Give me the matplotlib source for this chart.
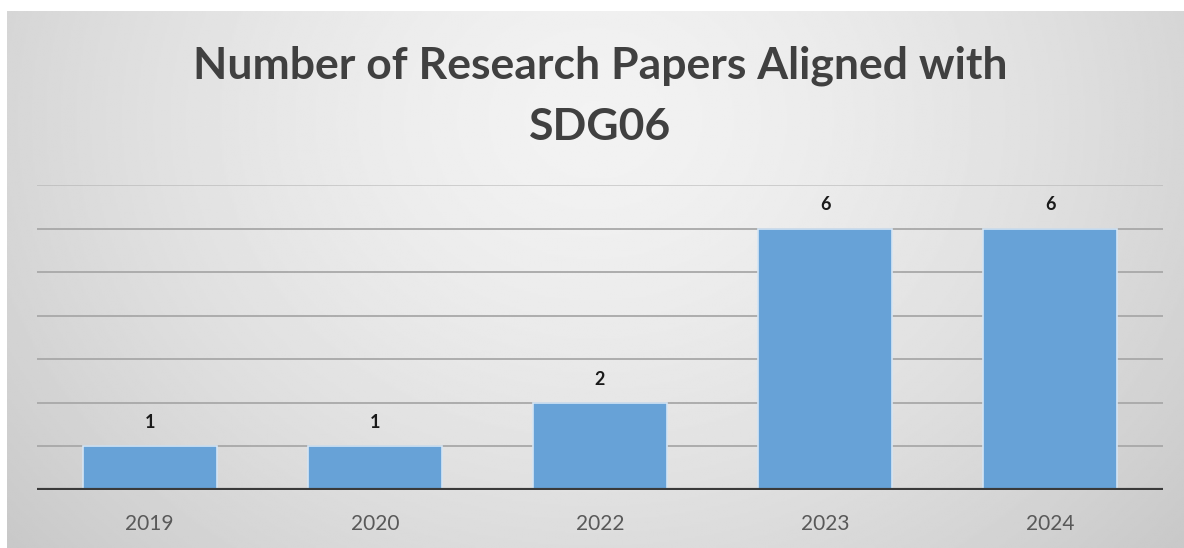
import numpy as np
import matplotlib
matplotlib.use("Agg")
import matplotlib.pyplot as plt

years = ["2019", "2020", "2022", "2023", "2024"]
papers = [1, 1, 2, 6, 6]
title_lines = ["Number of Research Papers Aligned with", "SDG06"]

W, H = 1184, 548
fig = plt.figure(figsize=(W / 100, H / 100), dpi=100)
fig.patch.set_facecolor("white")

# radial-ish gradient background, lighter near the top middle
bg = fig.add_axes([7 / W, 0, 1 - 7 / W, 1 - 11 / H])
yy, xx = np.mgrid[0:1:300j, 0:1:600j]
d = np.sqrt(((xx - 0.5) / 0.7) ** 2 + ((yy - 0.2) / 1.3) ** 2)
shade = 0.95 - 0.18 * np.clip(d, 0, 1) ** 1.5
bg.imshow(shade, cmap="gray", vmin=0, vmax=1, aspect="auto",
          extent=[0, 1, 1, 0], interpolation="bilinear")
bg.set_axis_off()

ax = fig.add_axes([37 / W, 58 / H, (1163 - 37) / W, (490 - 185) / H])
ax.patch.set_alpha(0)
x = np.arange(len(years))
ax.bar(x, papers, width=0.595, color="#67a2d7", edgecolor="#d4e5f5",
       linewidth=1.2, zorder=3)
for xi, v in zip(x, papers):
    ax.text(xi, v + 0.35, str(v), ha="center", va="bottom", fontsize=13,
            fontweight="bold", color="#1a1a1a", family="Lato")

ax.set_xlim(-0.5, len(years) - 0.5)
ax.set_ylim(0, 7)
for g in range(1, 8):
    ax.axhline(g, color="#a8a8a8", linewidth=1.3, zorder=1,
               alpha=0.5 if g == 7 else 1)
ax.axhline(0, color="#3a3a3a", linewidth=3, zorder=4)
ax.set_yticks([])
ax.set_xticks(x)
ax.set_xticklabels(years, fontsize=15, color="#595959", family="Lato")
ax.tick_params(axis="x", length=0, pad=17)
for s in ax.spines.values():
    s.set_visible(False)

fig.text(0.507, 1 - 66 / H, title_lines[0], ha="center", va="center",
         fontsize=32, fontweight="bold", color="#404040", family="Lato")
fig.text(0.507, 1 - 127 / H, title_lines[1], ha="center", va="center",
         fontsize=32, fontweight="bold", color="#404040", family="Lato")

fig.savefig("out.png", dpi=100)
